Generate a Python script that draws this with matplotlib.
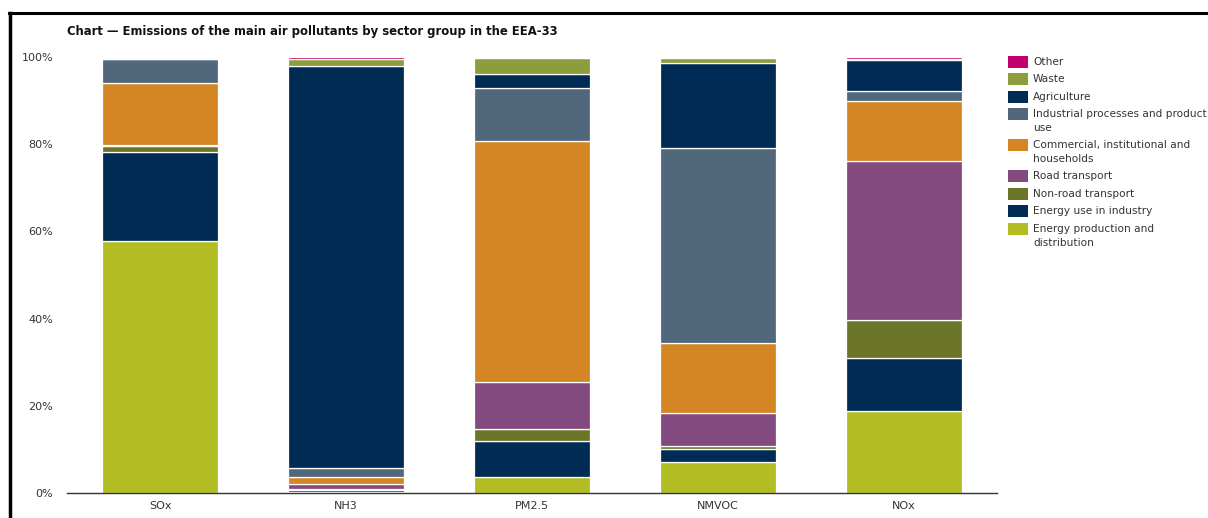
import matplotlib
matplotlib.use("Agg")
import matplotlib.pyplot as plt
from matplotlib.patches import Rectangle
from matplotlib.lines import Line2D
import numpy as np

plt.rcParams['font.family'] = ['DejaVu Sans']

categories = ["SOx", "NH3", "PM2.5", "NMVOC", "NOx"]

sectors = ["Energy production and\ndistribution", "Energy use in industry", "Non-road transport",
           "Road transport", "Commercial, institutional and\nhouseholds",
           "Industrial processes and product\nuse", "Agriculture", "Waste", "Other"]

energy_production = [57.8, 0.3, 3.7, 7.1, 18.8]
energy_industry = [20.4, 0.3, 8.2, 2.9, 12.2]
non_road = [1.5, 0.4, 2.8, 0.7, 8.7]
road = [0.2, 1.0, 10.8, 7.6, 36.4]
commercial = [14.1, 1.6, 55.3, 16.1, 13.9]
industrial = [5.6, 2.1, 12.0, 44.7, 2.2]
agriculture = [0.0, 92.2, 3.3, 19.5, 7.2]
waste = [0.2, 1.6, 3.6, 1.2, 0.2]
other = [0.2, 0.5, 0.3, 0.2, 0.4]

series = [energy_production, energy_industry, non_road, road, commercial,
          industrial, agriculture, waste, other]
colors = ["#b1bd22", "#002b55", "#6c7629", "#834a7f", "#d48624",
          "#51687c", "#002b55", "#8c9e3b", "#c2006e"]

yticks = [0, 20, 40, 60, 80, 100]
ytick_labels = ["0%", "20%", "40%", "60%", "80%", "100%"]

W, H = 1208, 518
fig = plt.figure(figsize=(W / 100, H / 100), dpi=100)
ax = fig.add_axes([67 / W, 25 / H, 930 / W, 436 / H])

x = np.arange(len(categories))
bottom = np.zeros(len(categories))
for vals, col in zip(series, colors):
    v = np.array(vals)
    ax.bar(x, v, bottom=bottom, width=0.62, color=col, edgecolor="white", linewidth=0.9)
    bottom += v

ax.set_xlim(-0.5, len(categories) - 0.5)
ax.set_ylim(0, 100)
ax.set_yticks(yticks)
ax.set_yticklabels(ytick_labels, fontsize=8, color="#333333")
ax.set_xticks(x)
ax.set_xticklabels(categories, fontsize=8, color="#333333")
ax.tick_params(axis="y", length=0, pad=10)
ax.tick_params(axis="x", length=0, pad=6)
for s in ["top", "right", "left"]:
    ax.spines[s].set_visible(False)
ax.spines["bottom"].set_color("#333333")
ax.spines["bottom"].set_linewidth(1.0)

fig.text(67 / W, 1 - 31 / H, "Chart \u2014 Emissions of the main air pollutants by sector group in the EEA-33",
         fontsize=8.4, fontweight="bold", color="#111111", va="center", ha="left")

# Legend (top to bottom: reverse stack order)
legend_y = [62, 79, 97, 114, 145, 176, 194, 211, 229]
for name, col, yy in zip(sectors[::-1], colors[::-1], legend_y):
    fig.patches.append(Rectangle((1008 / W, 1 - (yy + 6) / H), 20 / W, 12 / H,
                                 transform=fig.transFigure, facecolor=col, edgecolor="none"))
    fig.text(1033 / W, 1 - (yy - 5) / H, name, fontsize=7.6, color="#333333",
             va="top", ha="left", linespacing=1.5)

# outer frame
fig.lines.append(Line2D([9 / W, 1.0], [1 - 13 / H, 1 - 13 / H], transform=fig.transFigure,
                        color="black", linewidth=2.2))
fig.lines.append(Line2D([9.5 / W, 9.5 / W], [0, 1 - 13 / H], transform=fig.transFigure,
                        color="black", linewidth=2.5))

fig.savefig("out.png", dpi=100)
